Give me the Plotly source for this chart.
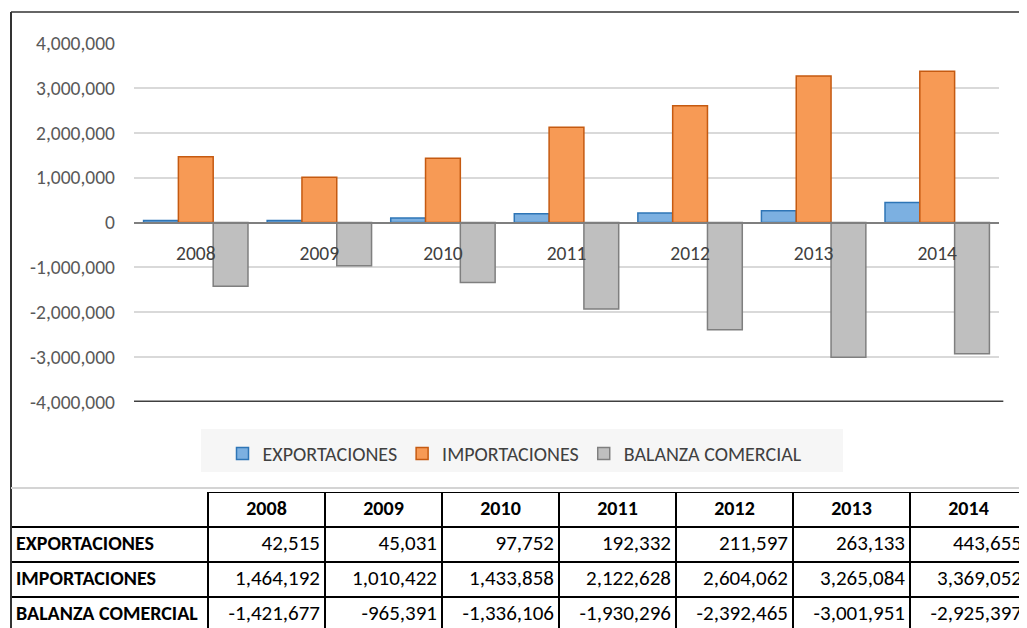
import plotly.graph_objects as go

years = ["2008", "2009", "2010", "2011", "2012", "2013", "2014"]
exportaciones = [42515, 45031, 97752, 192332, 211597, 263133, 443655]
importaciones = [1464192, 1010422, 1433858, 2122628, 2604062, 3265084, 3369052]
balanza = [-1421677, -965391, -1336106, -1930296, -2392465, -3001951, -2925397]

series_names = ["EXPORTACIONES", "IMPORTACIONES", "BALANZA COMERCIAL"]
y_ticks = [4000000, 3000000, 2000000, 1000000, 0, -1000000, -2000000, -3000000, -4000000]

W, H = 1027, 628
OFF = 8  # page body margin
FONT = "Carlito, 'Open Sans', sans-serif"

fills = ["#7cb0e1", "#f79a55", "#bfbfbf"]
edges = ["#2e75b6", "#c55a11", "#7f7f7f"]


def px_x(v):
    return (v - OFF) / W


def px_y(v):
    return 1 - (v - OFF) / H


series = [exportaciones, importaciones, balanza]

fig = go.Figure()
for name, vals, fc, ec in zip(series_names, series, fills, edges):
    fig.add_trace(go.Bar(
        x=years, y=vals, name=name,
        marker=dict(color=fc, line=dict(color=ec, width=1.5)),
        xaxis="x", yaxis="y",
    ))

# data table below the chart, drawn on its own axes
n = len(years)
first_col = 197 / 117
pad = 5 / 117
row_h = 35
tbl_top = px_y(492)
tbl_span = (tbl_top * H) / row_h

fig.add_trace(go.Scatter(
    x=[i + 0.5 for i in range(n)], y=[0] * n,
    text=[f"<b>{y}</b>" for y in years], mode="text", textposition="middle center",
    textfont=dict(family=FONT, size=20, color="black"),
    xaxis="x2", yaxis="y2", showlegend=False, hoverinfo="skip", cliponaxis=False,
))
fig.add_trace(go.Scatter(
    x=[-first_col + pad] * len(series_names), y=list(range(1, len(series_names) + 1)),
    text=[f"<b>{s}</b>" for s in series_names], mode="text", textposition="middle right",
    textfont=dict(family=FONT, size=20, color="black"),
    xaxis="x2", yaxis="y2", showlegend=False, hoverinfo="skip", cliponaxis=False,
))
for i in range(n):
    fig.add_trace(go.Scatter(
        x=[i + 1 - pad] * len(series), y=list(range(1, len(series) + 1)),
        text=[f"{s[i]:,}" for s in series], mode="text", textposition="middle left",
        textfont=dict(family=FONT, size=21, color="black"),
        xaxis="x2", yaxis="y2", showlegend=False, hoverinfo="skip", cliponaxis=False,
    ))

y_dom = [px_y(402), px_y(43)]

fig.update_layout(
    width=W, height=H,
    margin=dict(l=0, r=0, t=0, b=0),
    paper_bgcolor="white", plot_bgcolor="white",
    font=dict(family=FONT, color="#404040"),
    barmode="group", bargap=0.155, bargroupgap=0,
    showlegend=True,
    legend=dict(
        orientation="h", x=px_x(515), xanchor="center", y=px_y(434), yanchor="top",
        bgcolor="rgba(0,0,0,0)", font=dict(size=20, color="#404040"),
        itemwidth=30, tracegroupgap=0,
    ),
    xaxis=dict(
        domain=[px_x(134), px_x(999)], anchor="free", position=(y_dom[0] + y_dom[1]) / 2,
        showline=True, linecolor="#7f7f7f", linewidth=2, showgrid=False, automargin=False,
        ticks="", ticklabelstandoff=13, tickfont=dict(size=19.5, color="#404040"),
    ),
    yaxis=dict(
        domain=y_dom, range=[-4000000, 4000000], automargin=False,
        tickvals=y_ticks, ticktext=[f"{v:,}" for v in y_ticks],
        showgrid=True, gridcolor="#d9d9d9", gridwidth=1.5, zeroline=False,
        ticklabelstandoff=18, tickfont=dict(size=19.5, color="#595959"),
    ),
    xaxis2=dict(
        domain=[px_x(11), px_x(1027)], anchor="y2", range=[-first_col, n], automargin=False,
        tickvals=list(range(n)), showticklabels=False, ticks="",
        showgrid=True, gridcolor="black", gridwidth=2, zeroline=False, showline=False,
    ),
    yaxis2=dict(
        domain=[0, tbl_top], anchor="x2", range=[tbl_span - 0.5, -0.5], automargin=False,
        tickvals=[r + 0.5 for r in range(len(series))], showticklabels=False, ticks="",
        showgrid=True, gridcolor="black", gridwidth=2, zeroline=False, showline=False,
    ),
    shapes=[
        dict(type="rect", xref="paper", yref="paper", layer="below",
             x0=px_x(201), x1=px_x(843), y0=px_y(472), y1=px_y(429),
             fillcolor="#f6f6f6", line=dict(width=0)),
        dict(type="line", xref="x domain", yref="y", x0=0, x1=1.005, y0=-4000000, y1=-4000000,
             line=dict(color="#404040", width=3)),
        dict(type="line", xref="x2", yref="y2", x0=0, x1=n, y0=-0.5, y1=-0.5,
             line=dict(color="black", width=2)),
        dict(type="line", xref="paper", yref="paper", x0=px_x(11), x1=1, y0=px_y(12), y1=px_y(12),
             line=dict(color="#333333", width=1.5)),
        dict(type="line", xref="paper", yref="paper", x0=px_x(11), x1=px_x(11), y0=0, y1=px_y(12),
             line=dict(color="#333333", width=2)),
        dict(type="line", xref="paper", yref="paper", x0=px_x(11), x1=1, y0=px_y(488), y1=px_y(488),
             line=dict(color="#d4d4d4", width=2)),
    ],
)

fig.write_html("out.html")
